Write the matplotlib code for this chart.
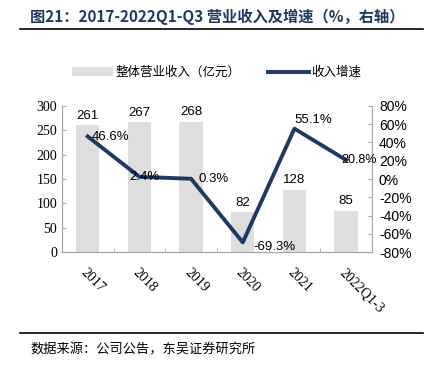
import matplotlib
matplotlib.use('Agg')
import matplotlib.pyplot as plt
import numpy as np
from matplotlib.patches import Patch
from matplotlib.lines import Line2D

years = ['2017', '2018', '2019', '2020', '2021', '2022Q1-3']
revenue = [261, 267, 268, 82, 128, 85]
growth = [46.6, 2.4, 0.3, -69.3, 55.1, 20.8]

navy = '#1F3864'
gray_bar = '#DEDEDE'
spine_c = '#A6A6A6'
cjk = ['Noto Sans CJK SC', 'DejaVu Sans']
serif = 'Liberation Serif'
sans = 'Liberation Sans'

fig = plt.figure(figsize=(4.33, 3.73), dpi=100)
ax = fig.add_axes([0.143, 0.324, 0.716, 0.392])
ax2 = ax.twinx()

x = np.arange(len(years))
ax.bar(x, revenue, width=0.45, color=gray_bar, zorder=1)
for xi, v in zip(x, revenue):
    ax.text(xi, v + 7, str(v), ha='center', va='bottom', fontsize=9.5, family=sans)

ax.set_xlim(-0.5, len(years) - 0.5)
ax.set_ylim(0, 300)
ax.set_yticks(range(0, 301, 50))
ax.set_xticks(x)
ax.set_xticklabels(years, rotation=-45, ha='left', rotation_mode='anchor', family=serif, fontsize=10)
ax.set_xticks(np.arange(-0.5, len(years)), minor=True)
ax.tick_params(axis='x', which='major', length=0, pad=10)
ax.tick_params(axis='x', which='minor', length=3, direction='in', color=spine_c)
ax.tick_params(axis='y', direction='in', length=3, color=spine_c, labelsize=10)
for lab in ax.get_yticklabels():
    lab.set_family(serif)

ax2.plot(x, growth, color=navy, linewidth=2.8, zorder=3)
ax2.set_ylim(-80, 80)
ax2.set_yticks(range(-80, 81, 20))
ax2.set_yticklabels(['%d%%' % t for t in range(-80, 81, 20)], family=sans, fontsize=10)
ax2.tick_params(axis='y', direction='in', length=3, color=spine_c, pad=5)

offsets = [(0.08, -1, 'left', 'center'), (0.1, 0, 'center', 'center'),
           (0.15, 0, 'left', 'center'), (0.2, -5, 'left', 'center'),
           (0.0, 9, 'left', 'center'), (-0.1, 0, 'left', 'center')]
for xi, g, (dx, dy, ha, va) in zip(x, growth, offsets):
    fs = 9 if xi == len(years) - 1 else 9.5
    ax2.text(xi + dx, g + dy, '%.1f%%' % g, ha=ha, va=va, fontsize=fs, family=sans, zorder=4)

for a in (ax, ax2):
    a.spines['top'].set_visible(False)
    for s in ('left', 'right', 'bottom'):
        a.spines[s].set_color(spine_c)
ax.spines['right'].set_visible(False)

handles = [Patch(facecolor=gray_bar, edgecolor='none'),
           Line2D([0], [0], color=navy, linewidth=2.8)]
fig.legend(handles, ['整体营业收入（亿元）', '收入增速'], loc='center',
           bbox_to_anchor=(0.5, 0.805), ncol=2, frameon=False,
           prop={'family': cjk, 'size': 9}, handlelength=3.3, handletextpad=0.2,
           columnspacing=2.2)

fig.text(0.07, 0.955, '图21：2017-2022Q1-Q3 营业收入及增速（%，右轴）', family=cjk,
         fontsize=11, fontweight='bold', color=navy, va='center')
fig.add_artist(Line2D([0.046, 0.977], [0.921, 0.921], color='black', linewidth=1.2))
fig.add_artist(Line2D([0.046, 0.977], [0.108, 0.108], color='black', linewidth=1.2))
fig.text(0.07, 0.062, '数据来源：公司公告，东吴证券研究所', family=cjk, fontsize=9.5, va='center')

fig.savefig('out.png', dpi=100)
